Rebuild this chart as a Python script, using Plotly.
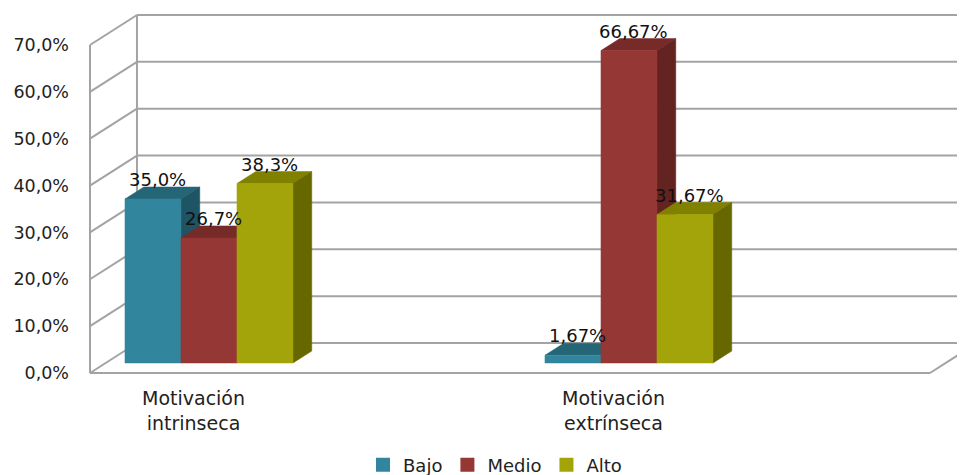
import plotly.graph_objects as go

# ---------------- data ----------------
categories = ["Motivación<br>intrinseca", "Motivación<br>extrínseca"]
series_names = ["Bajo", "Medio", "Alto"]
bajo = [35.0, 1.67]
medio = [26.7, 66.67]
alto = [38.3, 31.67]
bajo_labels = ["35,0%", "1,67%"]
medio_labels = ["26,7%", "66,67%"]
alto_labels = ["38,3%", "31,67%"]
y_ticks = [0, 10, 20, 30, 40, 50, 60, 70]
y_tick_labels = ["0,0%", "10,0%", "20,0%", "30,0%", "40,0%", "50,0%", "60,0%", "70,0%"]

series_values = [bajo, medio, alto]
series_labels = [bajo_labels, medio_labels, alto_labels]

# ---------------- style / geometry ----------------
front_colors = ["#31859C", "#953735", "#A3A30A"]
top_colors = ["#246676", "#772B29", "#818100"]
side_colors = ["#1E5463", "#622321", "#676700"]
GRID = "#A3A3A3"
FONT = "DejaVu Sans"

DX = 0.839        # depth offset in x units (bar widths)
DY = 6.40         # depth offset in percent units
D_FRONT = 1 / 3   # bar front depth fraction
D_BACK = 0.733    # bar back depth fraction
BAR_W = 1.0
CAT_START = 0.345
CAT_GAP = 7.5
X_END = 15.0

# the page body has an 8px margin, so the figure is 8px smaller than the window
FIG_W, FIG_H = 957, 467


def proj(x, y, d):
    return x + d * DX, y + d * DY


fig = go.Figure()

# walls / floor / gridlines
gx, gy = [], []


def seg(p, q):
    gx.extend([p[0], q[0], None])
    gy.extend([p[1], q[1], None])


y_top = y_ticks[-1]
for t in y_ticks:
    seg(proj(0, t, 1), proj(X_END + 2, t, 1))
    seg(proj(0, t, 0), proj(0, t, 1))
seg(proj(0, 0, 0), proj(0, y_top, 0))
seg(proj(0, 0, 1), proj(0, y_top, 1))
seg(proj(0, 0, 0), proj(X_END, 0, 0))
seg(proj(X_END, 0, 0), proj(X_END, 0, 1))
fig.add_trace(go.Scatter(x=gx, y=gy, mode="lines", line=dict(color=GRID, width=2),
                         hoverinfo="skip", showlegend=False))


def poly(pts, color):
    xs = [p[0] for p in pts] + [pts[0][0]]
    ys = [p[1] for p in pts] + [pts[0][1]]
    fig.add_trace(go.Scatter(x=xs, y=ys, mode="lines", fill="toself", fillcolor=color,
                             line=dict(color=color, width=0.5), hoverinfo="skip",
                             showlegend=False))


annotations = []
for i, cat in enumerate(categories):
    for j, name in enumerate(series_names):
        v = series_values[j][i]
        x0 = CAT_START + i * CAT_GAP + j * BAR_W
        x1 = x0 + BAR_W
        # top face
        poly([proj(x0, v, D_FRONT), proj(x1, v, D_FRONT), proj(x1, v, D_BACK), proj(x0, v, D_BACK)],
             top_colors[j])
        # side face
        poly([proj(x1, 0, D_FRONT), proj(x1, 0, D_BACK), proj(x1, v, D_BACK), proj(x1, v, D_FRONT)],
             side_colors[j])
        # front face
        poly([proj(x0, 0, D_FRONT), proj(x1, 0, D_FRONT), proj(x1, v, D_FRONT), proj(x0, v, D_FRONT)],
             front_colors[j])
        ly = proj(x0, v, D_BACK)[1]
        lx = proj(x0 + BAR_W / 2 + 0.08, v, D_FRONT)[0]
        annotations.append(dict(x=lx, y=ly, xref="x", yref="y", text=series_labels[j][i],
                                showarrow=False, xanchor="center", yanchor="bottom", yshift=-5,
                                font=dict(family=FONT, size=18, color="#111111")))
    cx = CAT_START + i * CAT_GAP + 1.5 * BAR_W
    annotations.append(dict(x=cx, y=0, xref="x", yref="y", text=cat, showarrow=False,
                            xanchor="center", yanchor="top", yshift=-12,
                            font=dict(family=FONT, size=19, color="#222222")))

# legend entries
for j, name in enumerate(series_names):
    fig.add_trace(go.Scatter(x=[None], y=[None], mode="markers", name=name,
                             marker=dict(symbol="square", size=14, color=front_colors[j])))

PX_PER_PCT = 4.686
fig.update_layout(
    width=FIG_W, height=FIG_H,
    margin=dict(l=76, r=0, t=2, b=95, autoexpand=False),
    paper_bgcolor="white", plot_bgcolor="white",
    separators=",.",
    xaxis=dict(range=[-6 / 56, -6 / 56 + 881 / 56], visible=False, fixedrange=True),
    yaxis=dict(range=[-7 / PX_PER_PCT, 363 / PX_PER_PCT], tickvals=y_ticks, ticktext=y_tick_labels,
               showgrid=False, zeroline=False, showline=False, ticks="", ticklabelstandoff=14,
               automargin=False,
               tickfont=dict(family=FONT, size=17.5, color="#222222"), fixedrange=True),
    showlegend=True,
    legend=dict(orientation="h", xref="container", yref="container",
                x=487 / FIG_W, xanchor="center", y=10 / FIG_H, yanchor="middle",
                font=dict(family=FONT, size=18, color="#222222"), itemwidth=30,
                bgcolor="rgba(0,0,0,0)"),
    annotations=annotations,
)

fig.write_html("out.html")
